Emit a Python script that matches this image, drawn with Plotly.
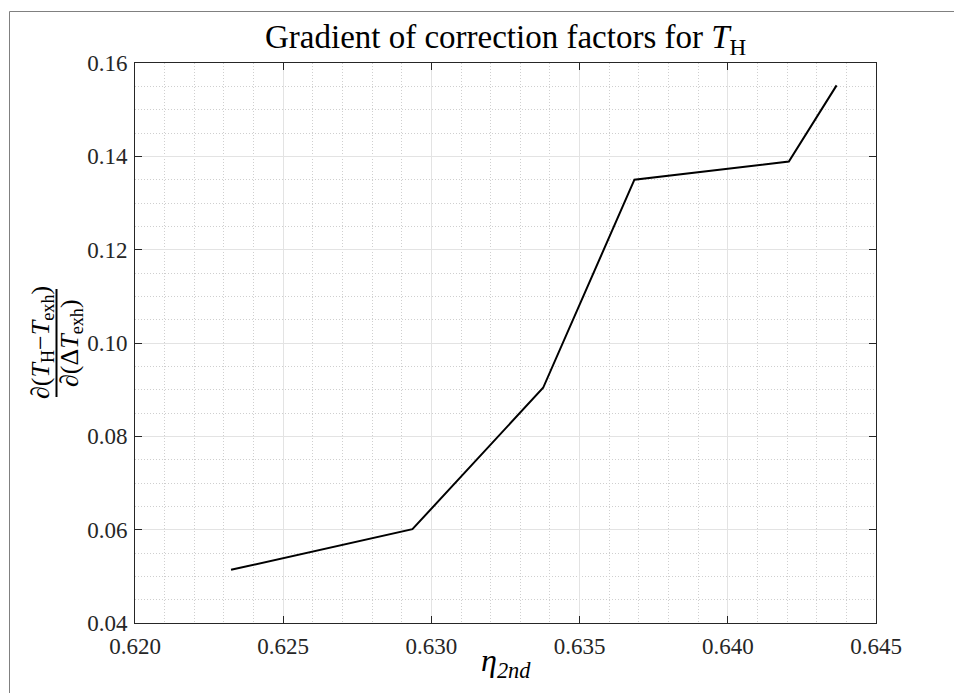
import plotly.graph_objects as go

# Data
eta_2nd = [0.62324, 0.62936, 0.63377, 0.63685, 0.64206, 0.64367]
gradient = [0.0514, 0.0601, 0.0904, 0.1350, 0.1389, 0.1552]

x_ticks = [0.620, 0.625, 0.630, 0.635, 0.640, 0.645]
y_ticks = [0.04, 0.06, 0.08, 0.10, 0.12, 0.14, 0.16]

W, H = 954, 693
L, R, T, B = 135, 78, 63, 70
pw, ph = W - L - R, H - T - B

def px2x(px):
    return (px - L) / pw

def py2y(py):
    return (H - B - py) / ph

FONT = "Liberation Serif, DejaVu Serif, serif"

fig = go.Figure()
fig.add_trace(go.Scatter(x=eta_2nd, y=gradient, mode="lines",
                         line=dict(color="black", width=2), showlegend=False))

axis_common = dict(
    showline=True, linecolor="#262626", linewidth=1, mirror="ticks",
    ticks="inside", ticklen=7, tickcolor="#262626", tickwidth=1,
    showgrid=True, gridcolor="#e3e3e3", gridwidth=1, zeroline=False,
    tickfont=dict(family=FONT, size=23, color="#262626"),
)

fig.update_xaxes(range=[0.620, 0.645], tickvals=x_ticks,
                 ticktext=[f"{v:.3f}" for v in x_ticks], ticklabelstandoff=2,
                 minor=dict(dtick=0.001, tick0=0.62, showgrid=True, griddash="1px,2px",
                            gridcolor="#cfcfcf", gridwidth=1, ticks=""),
                 **axis_common)
fig.update_yaxes(range=[0.04, 0.16], tickvals=y_ticks,
                 ticktext=[f"{v:.2f}" for v in y_ticks], ticklabelstandoff=2,
                 minor=dict(dtick=0.005, tick0=0.04, showgrid=True, griddash="1px,2px",
                            gridcolor="#cfcfcf", gridwidth=1, ticks=""),
                 **axis_common)

annotations = [
    dict(text="Gradient of correction factors for <i>T</i><sub>H</sub>",
         xref="paper", yref="paper", x=0.5, y=py2y(40), xanchor="center",
         yanchor="middle", showarrow=False,
         font=dict(family=FONT, size=33, color="black")),
    dict(text="<i>η</i><sub><i>2nd</i></sub>",
         xref="paper", yref="paper", x=0.5, y=py2y(662), xanchor="center",
         yanchor="middle", showarrow=False,
         font=dict(family=FONT, size=32, color="black")),
    dict(text="∂(<i>T</i><sub>H</sub>−<i>T</i><sub>exh</sub>)",
         xref="paper", yref="paper", x=px2x(42), y=py2y(343), xanchor="center",
         yanchor="middle", showarrow=False, textangle=-90,
         font=dict(family=FONT, size=26, color="black")),
    dict(text="∂(Δ<i>T</i><sub>exh</sub>)",
         xref="paper", yref="paper", x=px2x(71), y=py2y(343), xanchor="center",
         yanchor="middle", showarrow=False, textangle=-90,
         font=dict(family=FONT, size=26, color="black")),
]

shapes = [
    # fraction bar
    dict(type="line", xref="paper", yref="paper", x0=px2x(56.5), x1=px2x(56.5),
         y0=py2y(289), y1=py2y(397), line=dict(color="black", width=2)),
    # figure border (left & top)
    dict(type="line", xref="paper", yref="paper", x0=px2x(9.5), x1=px2x(9.5),
         y0=py2y(11.5), y1=py2y(700), line=dict(color="#808080", width=1)),
    dict(type="line", xref="paper", yref="paper", x0=px2x(9.5), x1=px2x(960),
         y0=py2y(11.5), y1=py2y(11.5), line=dict(color="#808080", width=1)),
]

fig.update_layout(width=W, height=H, margin=dict(l=L, r=R, t=T, b=B),
                  font=dict(family=FONT, color="#262626"),
                  plot_bgcolor="white", paper_bgcolor="white",
                  annotations=annotations, shapes=shapes, showlegend=False)

fig.write_html("out.html")
